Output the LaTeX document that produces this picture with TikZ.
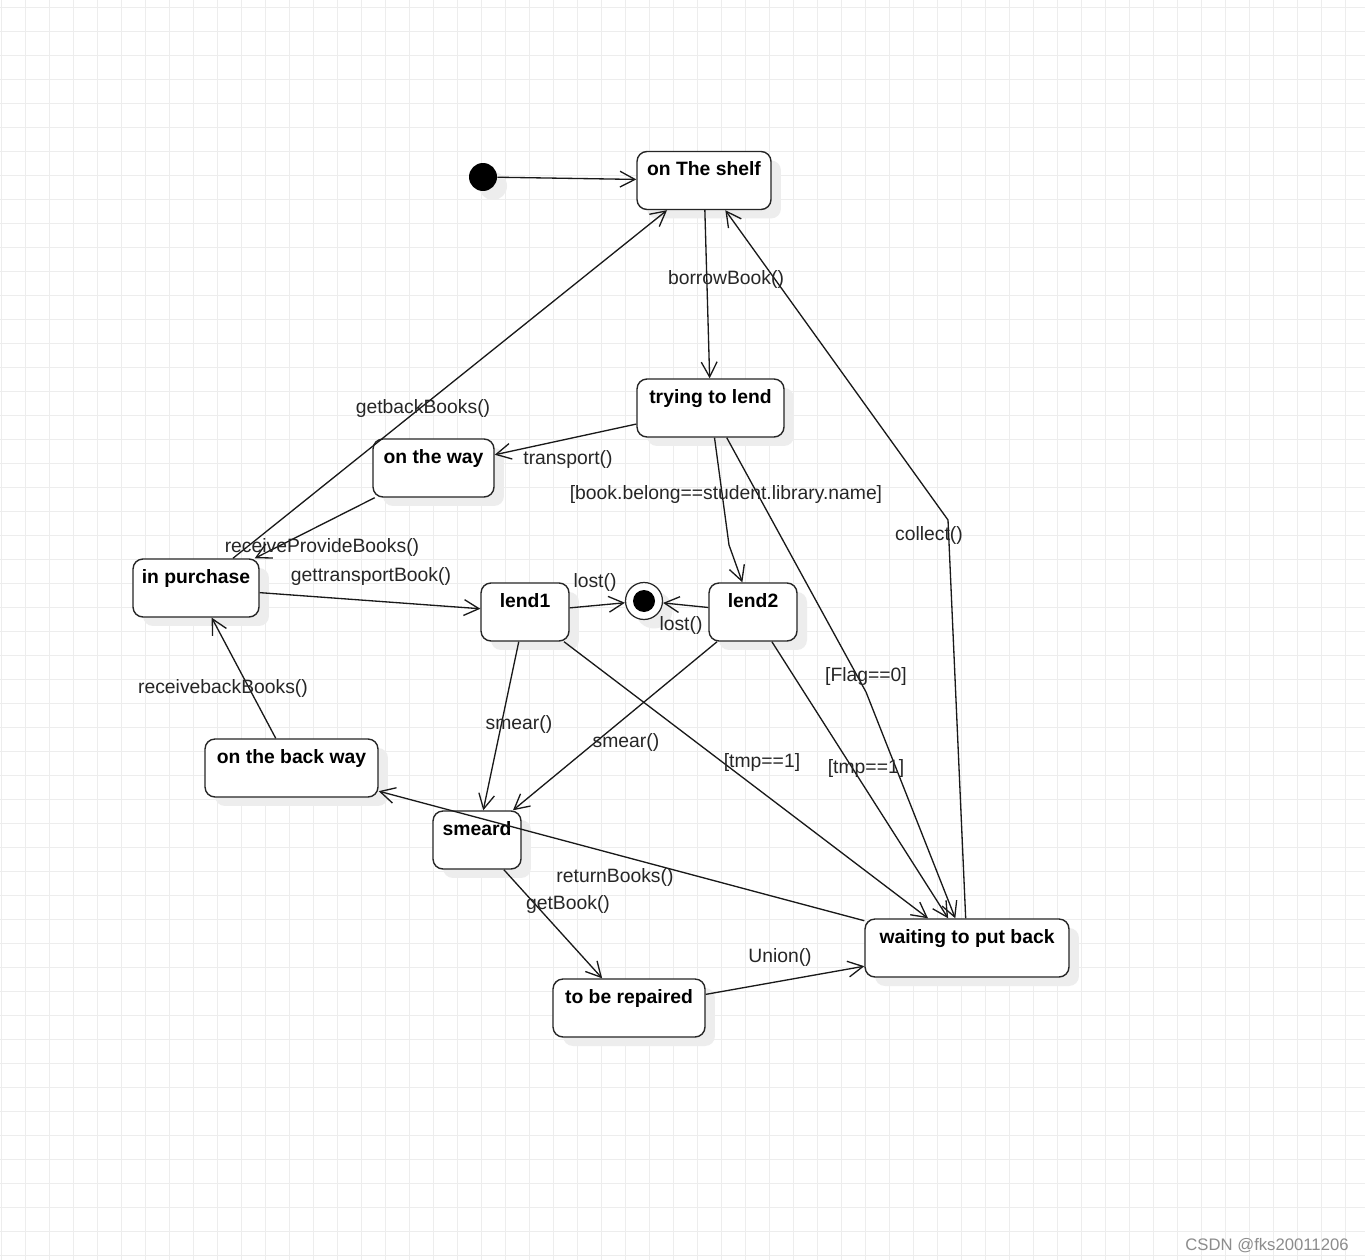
\documentclass[tikz,border=0pt]{standalone}
\usepackage{fontspec}
\setmainfont{Liberation Sans}
\usetikzlibrary{arrows.meta,shadows}

\tikzset{
  state/.style={draw=black!85, line width=0.8pt, fill=white, rounded corners=0.2cm,
    inner sep=0pt, text height=0.48cm, text depth=0.68cm,
    font=\bfseries\fontsize{11}{13}\selectfont,
    drop shadow={shadow xshift=0.2cm, shadow yshift=-0.18cm, fill=black!7, opacity=1}},
  trans/.style={draw=black!90, line width=0.75pt,
    -{Straight Barb[length=8.5pt,width=9pt,line width=0.75pt]}},
  lbl/.style={text=black!85, font=\fontsize{11}{13}\selectfont, inner sep=0pt, yshift=-0.04cm},
  gridline/.style={draw=black!7, line width=0.5pt},
}

\begin{document}
\begin{tikzpicture}[x=0.02cm, y=-0.02cm]
    \useasboundingbox[fill=white] (0,0) rectangle (1365,1260);
    % Grid
    \foreach \gx in {1,25,...,1365} \draw[gridline] (\gx,0) -- (\gx,1260);
    \foreach \gy in {7,31,...,1260} \draw[gridline] (0,\gy) -- (1365,\gy);
    % States
    \node[circle, fill=black, minimum size=0.56cm, inner sep=0pt,
      drop shadow={shadow xshift=0.2cm, shadow yshift=-0.18cm, fill=black!7, opacity=1}] (start) at (483,177) {};
    \node[state, minimum width=2.68cm] (shelf) at (704,180.5) {on The shelf};
    \node[state, minimum width=2.94cm] (trying) at (710.5,408) {trying to lend};
    \node[state, minimum width=2.42cm] (onway) at (433.5,468) {on the way};
    \node[state, minimum width=2.52cm] (purchase) at (196,588) {in purchase};
    \node[state, minimum width=1.76cm] (lend1) at (525,612) {lend1};
    \node[state, minimum width=1.76cm] (lend2) at (753,612) {lend2};
    \node[state, minimum width=3.46cm] (backway) at (291.5,768) {on the back way};
    \node[state, minimum width=1.76cm] (smeard) at (477,840) {smeard};
    \node[state, minimum width=3.04cm] (repaired) at (629,1008) {to be repaired};
    \node[state, minimum width=4.08cm] (waiting) at (967,948) {waiting to put back};
    \node[circle, draw=black!85, line width=0.7pt, fill=white, minimum size=0.74cm, inner sep=0pt,
      drop shadow={shadow xshift=0.2cm, shadow yshift=-0.18cm, fill=black!7, opacity=1}] (end) at (644,601) {};
    \fill (end.center) circle (0.22cm);
    % Bends
    \coordinate (bendA) at (729,545);
    \coordinate (bendB) at (866,692);
    \coordinate (bendC) at (948,520);
    % Transitions
    \draw[trans] (start) -- (shelf);
    \draw[trans] (shelf) -- (trying);
    \draw[trans] (trying) -- (onway);
    \draw[trans] (onway) -- (purchase);
    \draw[trans] (purchase) -- (shelf);
    \draw[trans] (purchase) -- (lend1);
    \draw[trans] (lend1) -- (end);
    \draw[trans] (lend2) -- (end);
    \draw[trans] (trying) -- (bendA) -- (lend2);
    \draw[trans] (trying) -- (bendB) -- (waiting);
    \draw[trans] (lend1) -- (waiting);
    \draw[trans] (lend2) -- (waiting);
    \draw[trans] (waiting) -- (bendC) -- (shelf);
    \draw[trans] (lend1) -- (smeard);
    \draw[trans] (lend2) -- (smeard);
    \draw[trans] (waiting) -- (backway);
    \draw[trans] (backway) -- (purchase);
    \draw[trans] (smeard) -- (repaired);
    \draw[trans] (repaired) -- (waiting);
    % Labels
    \node[lbl] (l-borrow) at (726,278) {borrowBook()};
    \node[lbl] (l-getback) at (423,407) {getbackBooks()};
    \node[lbl] (l-transport) at (568,458) {transport()};
    \node[lbl] (l-belong) at (726,493) {[book.belong==student.library.name]};
    \node[lbl] (l-provide) at (322,545) {receiveProvideBooks()};
    \node[lbl] (l-gettrans) at (371,575) {gettransportBook()};
    \node[lbl] (l-lost1) at (595,580) {lost()};
    \node[lbl] (l-lost2) at (681,623) {lost()};
    \node[lbl] (l-collect) at (929,533) {collect()};
    \node[lbl] (l-receiveback) at (223,686) {receivebackBooks()};
    \node[lbl] (l-smear1) at (519,722) {smear()};
    \node[lbl] (l-smear2) at (626,740) {smear()};
    \node[lbl] (l-flag) at (866,674) {[Flag==0]};
    \node[lbl] (l-tmp1) at (762,760) {[tmp==1]};
    \node[lbl] (l-tmp2) at (866,766) {[tmp==1]};
    \node[lbl] (l-return) at (615,875) {returnBooks()};
    \node[lbl] (l-getbook) at (568,902) {getBook()};
    \node[lbl] (l-union) at (780,955) {Union()};
    \node[lbl, text=black!45, font=\fontsize{9.5}{11}\selectfont] (mark) at (1267,1244) {CSDN @fks20011206};
\end{tikzpicture}
\end{document}
